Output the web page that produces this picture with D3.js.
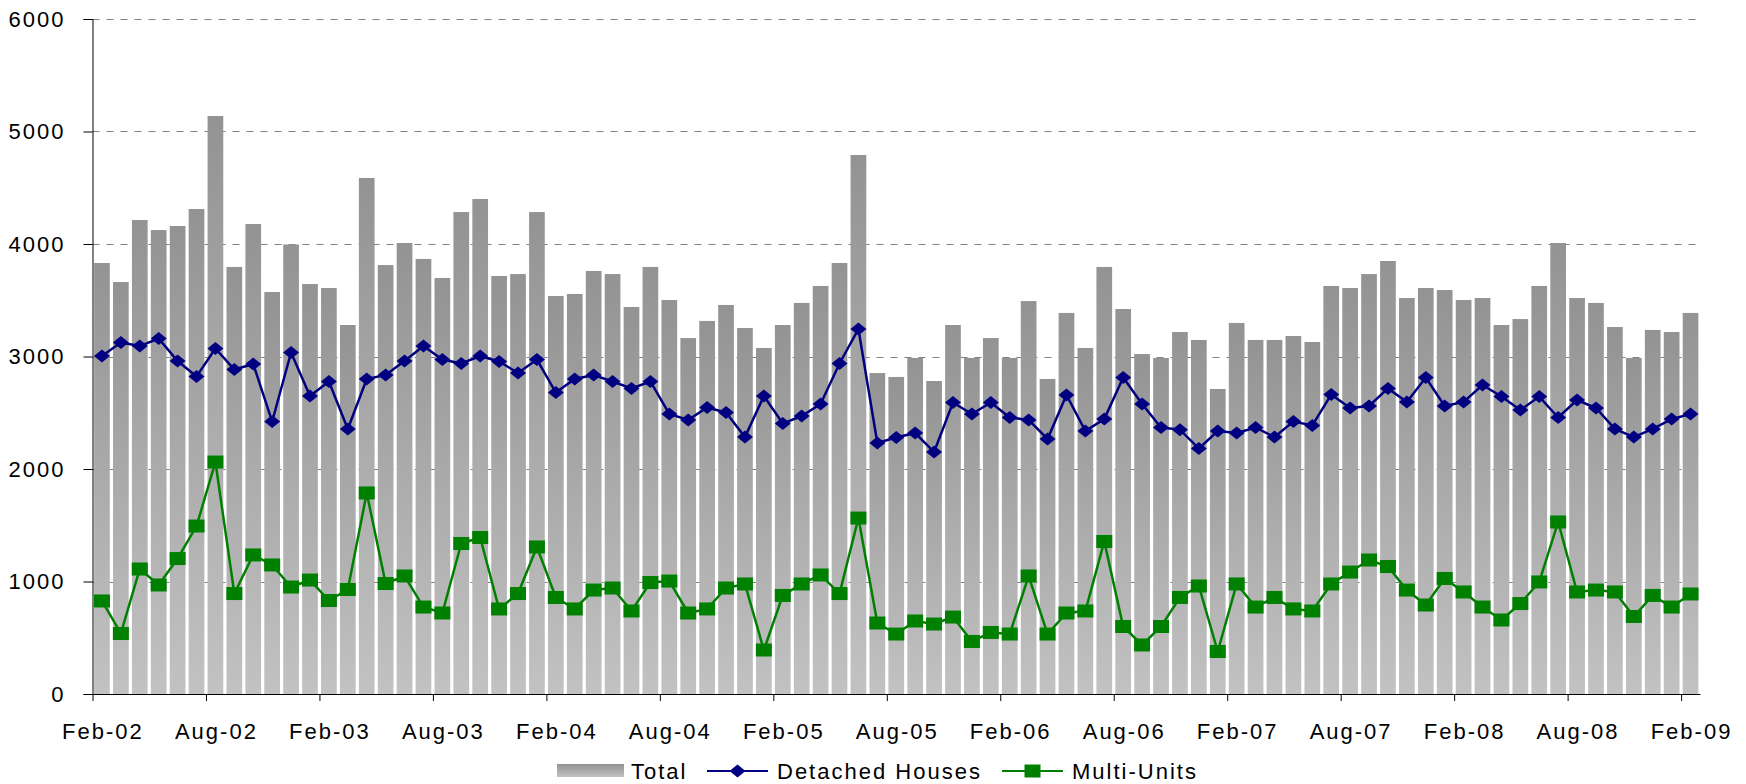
<!DOCTYPE html>
<html>
<head>
<meta charset="utf-8">
<script src="https://cdn.jsdelivr.net/npm/d3@7"></script>
<style>
  body { margin: 0; background: #fff; }
  text { font-family: "Liberation Sans", Arial, sans-serif; font-size: 22px; letter-spacing: 2px; fill: #000; }
</style>
</head>
<body>
<div id="svgContainer"></div>
<script>
// monthly categories Feb-02 .. Feb-09
var months = d3.timeMonths(new Date(2002, 1, 1), new Date(2009, 2, 1)).map(d3.timeFormat("%b-%y"));

var total = [3831, 3662, 4213, 4124, 4160, 4311, 5138, 3796, 4178, 3573, 3996, 3644,
  3609, 3280, 4587, 3813, 4009, 3867, 3698, 4284, 4400, 3716, 3733, 4284,
  3538, 3556, 3760, 3733, 3440, 3796, 3502, 3164, 3316, 3458, 3253, 3076,
  3280, 3476, 3627, 3831, 4791, 2853, 2818, 2987, 2782, 3280, 2987, 3164,
  2987, 3493, 2800, 3387, 3076, 3796, 3422, 3022, 2987, 3218, 3147, 2711,
  3298, 3147, 3147, 3182, 3129, 3627, 3609, 3733, 3849, 3520, 3609, 3591,
  3502, 3520, 3280, 3333, 3627, 4009, 3520, 3476, 3262, 2987, 3236, 3218,
  3387];

var detached = [3004, 3124, 3093, 3160, 2960, 2822, 3071, 2884, 2933, 2422, 3036, 2649,
  2778, 2356, 2800, 2836, 2960, 3093, 2973, 2938, 3004, 2956, 2853, 2973,
  2680, 2800, 2836, 2778, 2716, 2778, 2489, 2436, 2547, 2502, 2284, 2649,
  2404, 2471, 2578, 2938, 3244, 2231, 2280, 2320, 2151, 2591, 2489, 2591,
  2458, 2436, 2267, 2658, 2338, 2444, 2813, 2578, 2369, 2350, 2182, 2338,
  2320, 2369, 2284, 2422, 2387, 2662, 2542, 2560, 2716, 2596, 2813, 2560,
  2596, 2747, 2644, 2524, 2644, 2458, 2613, 2542, 2356, 2284, 2356, 2444,
  2489];

var multi = [827, 538, 1111, 969, 1204, 1493, 2062, 893, 1236, 1147, 951, 1013,
  831, 929, 1787, 982, 1049, 773, 720, 1338, 1391, 756, 893, 1307,
  858, 756, 924, 942, 738, 991, 1004, 720, 756, 942, 978, 391,
  876, 978, 1058, 893, 1564, 631, 533, 649, 622, 684, 467, 547,
  533, 1049, 533, 720, 738, 1356, 600, 436, 600, 858, 960, 378,
  978, 773, 858, 756, 738, 978, 1084, 1191, 1133, 924, 791, 1027,
  907, 773, 658, 804, 996, 1529, 907, 924, 907, 689, 876, 773,
  889];

var yTicks = [0, 1000, 2000, 3000, 4000, 5000, 6000];
var labelEvery = 6;

var width = 1746, height = 784;
var plotLeft = 92.5, plotRight = 1700, plotTop = 19, plotBottom = 694;

var svg = d3.select("#svgContainer").append("svg")
    .attr("width", width)
    .attr("height", height);

// bar gradient: dark at top, light at bottom
var grad = svg.append("defs").append("linearGradient")
    .attr("id", "barGrad")
    .attr("x1", 0).attr("y1", 0).attr("x2", 0).attr("y2", 1);
grad.append("stop").attr("offset", "0%").attr("stop-color", "#939393");
grad.append("stop").attr("offset", "100%").attr("stop-color", "#c2c2c2");

var x = d3.scaleBand()
    .domain(months)
    .range([plotLeft, plotRight])
    .paddingInner(0.17)
    .paddingOuter(0.085);

// category boundaries for the tick marks
var xb = d3.scaleLinear().domain([0, months.length]).range([plotLeft, plotRight]);

var y = d3.scaleLinear().domain([0, 6000]).range([plotBottom, plotTop]);

// ****************** grid ***************************
svg.append("g").selectAll("line")
    .data(yTicks.slice(1))
    .enter().append("line")
    .attr("x1", plotLeft).attr("x2", plotRight)
    .attr("y1", function(d) { return Math.round(y(d)) + 0.5; })
    .attr("y2", function(d) { return Math.round(y(d)) + 0.5; })
    .attr("stroke", "#808080")
    .attr("stroke-dasharray", "7,7");

// ****************** bars ***************************
svg.append("g").selectAll("rect")
    .data(total)
    .enter().append("rect")
    .attr("x", function(d, i) { return x(months[i]); })
    .attr("width", x.bandwidth())
    .attr("y", function(d) { return y(d); })
    .attr("height", function(d) { return plotBottom - y(d); })
    .attr("fill", "url(#barGrad)");

// ****************** axes ***************************
var yAxis = svg.append("g")
    .attr("transform", "translate(" + plotLeft + ",0)")
    .call(d3.axisLeft(y).tickValues(yTicks).tickSize(9).tickPadding(18).tickFormat(d3.format("d")));
yAxis.select(".domain").attr("stroke", "#000");
yAxis.selectAll("text").style("font-size", "22px").style("font-family", "Liberation Sans, Arial, sans-serif");

var xTickIdx = d3.range(0, months.length, labelEvery);
var xAxis = svg.append("g")
    .attr("transform", "translate(0," + plotBottom + ")")
    .call(d3.axisBottom(xb).tickValues(xTickIdx).tickSize(7).tickSizeOuter(0).tickFormat(""));
xAxis.select(".domain").attr("stroke", "#000");

svg.append("g").selectAll("text")
    .data(xTickIdx)
    .enter().append("text")
    .attr("x", function(i) { return x(months[i]) + x.bandwidth() / 2 + 1; })
    .attr("y", 739)
    .attr("text-anchor", "middle")
    .text(function(i) { return months[i]; });

// ****************** lines ***************************
var cx = function(i) { return x(months[i]) + x.bandwidth() / 2; };
var line = d3.line()
    .x(function(d, i) { return cx(i); })
    .y(function(d) { return y(d); });

svg.append("path")
    .datum(detached)
    .attr("d", line)
    .attr("fill", "none")
    .attr("stroke", "#000080")
    .attr("stroke-width", 2.5);

var diamond = function(px, py) {
  return "M" + px + "," + (py - 6.5) + "L" + (px + 8) + "," + py + "L" + px + "," + (py + 6.5) + "L" + (px - 8) + "," + py + "Z";
};

svg.append("g").selectAll("path")
    .data(detached)
    .enter().append("path")
    .attr("d", function(d, i) { return diamond(cx(i), y(d)); })
    .attr("fill", "#000080");

svg.append("path")
    .datum(multi)
    .attr("d", line)
    .attr("fill", "none")
    .attr("stroke", "#008000")
    .attr("stroke-width", 2.5);

svg.append("g").selectAll("rect")
    .data(multi)
    .enter().append("rect")
    .attr("x", function(d, i) { return cx(i) - 8; })
    .attr("y", function(d) { return y(d) - 6.5; })
    .attr("width", 16)
    .attr("height", 13)
    .attr("fill", "#008000");

// ****************** legend ***************************
var legend = svg.append("g");
var ly = 771;

legend.append("rect")
    .attr("x", 557).attr("y", 764).attr("width", 67).attr("height", 13)
    .attr("fill", "url(#barGrad)");
legend.append("text").attr("x", 631).attr("y", ly + 8).text("Total");

legend.append("line")
    .attr("x1", 707).attr("x2", 768).attr("y1", ly).attr("y2", ly)
    .attr("stroke", "#000080").attr("stroke-width", 2);
legend.append("path").attr("d", diamond(737.5, ly)).attr("fill", "#000080");
legend.append("text").attr("x", 777).attr("y", ly + 8).text("Detached Houses");

legend.append("line")
    .attr("x1", 1002).attr("x2", 1063).attr("y1", ly).attr("y2", ly)
    .attr("stroke", "#008000").attr("stroke-width", 2);
legend.append("rect").attr("x", 1024.5).attr("y", ly - 6.5).attr("width", 16).attr("height", 13).attr("fill", "#008000");
legend.append("text").attr("x", 1072).attr("y", ly + 8).text("Multi-Units");
</script>
</body>
</html>
